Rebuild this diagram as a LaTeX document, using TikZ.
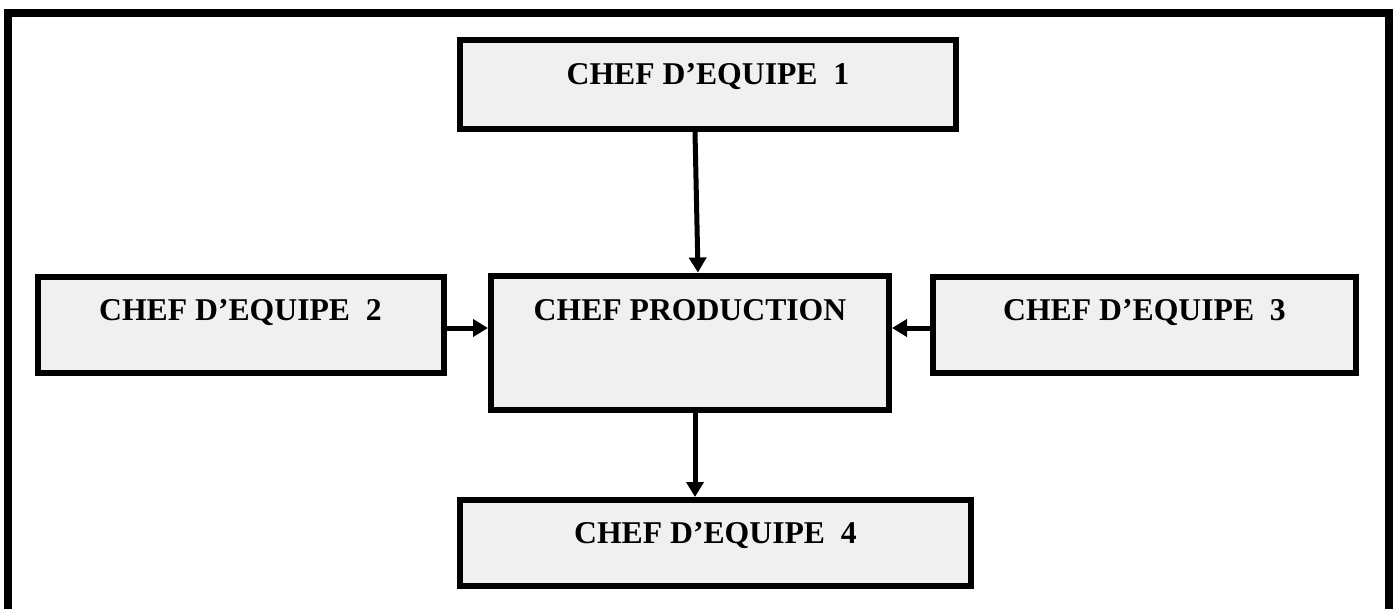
\documentclass[tikz,border=0pt]{standalone}
\usepackage{fontspec}
\setmainfont{Liberation Serif}
\usepackage{tikz}
\usetikzlibrary{arrows.meta,positioning,calc}
\definecolor{boxgray}{HTML}{F0F0F0}

\begin{document}
\begin{tikzpicture}[
  x=1pt, y=-1pt,
  team/.style={
    draw=black, fill=boxgray, line width=6pt, inner sep=0pt,
    font=\fontsize{31.7pt}{36pt}\selectfont\bfseries,
    text height=21pt, text depth=21pt
  },
  arrow/.style={-{Triangle[length=15pt,width=17pt]}, line width=5pt, color=black}
]
  \useasboundingbox (0,0) rectangle (1397,608);
  \draw[line width=8pt] (8,660) -- (8,13) -- (1389,13) -- (1389,660);
  \node[team, minimum width=398pt, minimum height=134.5pt, text depth=65pt] (prod) at (690,342.75) {CHEF PRODUCTION};
  \node[team, minimum width=496pt, minimum height=89pt] (chef1) at (708,84.5) {CHEF D’EQUIPE\ \ 1};
  \node[team, minimum width=406pt, minimum height=96pt, text depth=31pt] (chef2) at (240.5,325) {CHEF D’EQUIPE\ \ 2};
  \node[team, minimum width=423pt, minimum height=96pt, text depth=31pt] (chef3) at (1144.5,325) {CHEF D’EQUIPE\ \ 3};
  \node[team, minimum width=511pt, minimum height=86pt] (chef4) at (715.5,543) {CHEF D’EQUIPE\ \ 4};
  \draw[arrow] ([xshift=-13pt]chef1.south) -- ([xshift=8pt]prod.north);
  \draw[arrow] ([yshift=-3pt]chef2.east) -- ([yshift=-3pt]chef2.east -| prod.west);
  \draw[arrow] ([yshift=-3pt]chef3.west) -- ([yshift=-3pt]chef3.west -| prod.east);
  \draw[arrow] ([xshift=5pt]prod.south) -- ([xshift=5pt]prod.south |- chef4.north);
\end{tikzpicture}
\end{document}
